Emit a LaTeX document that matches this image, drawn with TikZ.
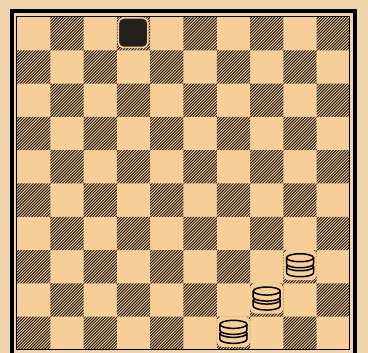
\documentclass[tikz,border=0pt]{standalone}
\usepackage{tikz}
\definecolor{papier}{RGB}{242,212,172}
\definecolor{clair}{RGB}{247,205,152}
\definecolor{encre}{RGB}{35,32,30}
\newcommand{\cote}{33.3}
\tikzset{hachure/.style={line width=0.95pt, encre}}
\newcommand{\pion}[2]{\fill[encre, draw=clair, line width=1.5pt, rounded corners=5pt]
	({17+#1*\cote+1.5},{17+#2*\cote+1}) rectangle ++(29.5,29.5)}
\newcommand{\dame}[2]{\begin{scope}[shift={({17+(#1+0.5)*\cote},{17+(#2+0.5)*\cote-2})}]
	\fill[clair, rounded corners=5pt] (-16.5,-15) rectangle (16.5,15.5);
	\filldraw[fill=clair, line width=1.5pt] (-13.5,2) -- (-13.5,8) arc[start angle=180, end angle=0, x radius=13.5, y radius=4] -- (13.5,2);
	\draw[line width=1.5pt] (0,2) ellipse [x radius=13.5, y radius=4];
	\filldraw[fill=clair, line width=1.5pt] (-13.5,-7) -- (-13.5,-1) arc[start angle=180, end angle=0, x radius=13.5, y radius=4] -- (13.5,-7);
	\filldraw[fill=clair, line width=1.5pt] (0,-7) ellipse [x radius=13.5, y radius=4];
	\end{scope}}

\begin{document}
\begin{tikzpicture}[x=1pt,y=-1pt]
	\useasboundingbox (0,0) rectangle (368,353);
	\fill[papier] (0,0) rectangle (368,353);
	\fill[clair] (17,17) rectangle (350,350);
	\begin{scope}
		\clip \foreach \j in {0,...,9} {\foreach \k in {0,...,4}
			{({17+(2*\k+mod(\j+1,2))*\cote},{17+\j*\cote}) rectangle ++(\cote,\cote)}};
		\foreach \k in {-333,-330.1,...,333}
			\draw[hachure] ({17+\k},350) -- ++(333,-333);
	\end{scope}
	\draw[line width=4.5pt] (12,11) rectangle (355,358);
	\draw[line width=1pt] (17,17) rectangle (350,349.5);
	\pion{3}{0};
	\dame{8}{7}
	\dame{7}{8}
	\dame{6}{9}
\end{tikzpicture}
\end{document}
